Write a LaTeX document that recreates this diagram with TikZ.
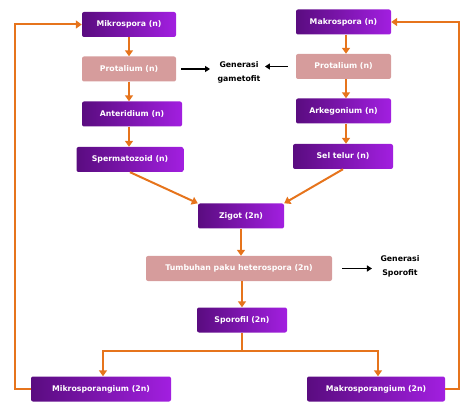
\documentclass[tikz,border=0pt]{standalone}
\usepackage{fontspec}
\setmainfont{DejaVu Sans}
\usetikzlibrary{arrows.meta,positioning}

\definecolor{ungutua}{HTML}{5A0C80}
\definecolor{ungumuda}{HTML}{A21FE0}
\definecolor{merahmuda}{HTML}{D69C9C}
\definecolor{oranye}{HTML}{E6741C}

\tikzset{
  kotak/.style={rectangle, rounded corners=2pt, text=white, inner sep=0pt,
    minimum height=25pt, font=\bfseries\fontsize{7.8}{9}\selectfont},
  fase/.style={kotak, left color=ungutua, right color=ungumuda},
  protal/.style={kotak, fill=merahmuda},
  ket/.style={align=center, font=\bfseries\fontsize{7.8}{14}\selectfont},
  panah/.style={draw=oranye, line width=2pt, -{Triangle[length=6pt,width=8pt]}},
  garis/.style={draw=oranye, line width=2pt},
  hitam/.style={draw=black, line width=1.4pt, -{Triangle[length=5pt,width=6pt]}}
}

\begin{document}
\begin{tikzpicture}[x=1pt,y=1pt]
\useasboundingbox (0,0) rectangle (474,-414);

% jalur kiri
\node [fase, minimum width=94pt] (mikro) at (129,-24.5) {Mikrospora (n)};
\node [protal, minimum width=94pt] (protL) at (129,-69) {Protalium (n)};
\node [fase, minimum width=100pt] (anter) at (132,-114) {Anteridium (n)};
\node [fase, minimum width=107pt] (sperma) at (130,-159.5) {Spermatozoid (n)};

% jalur kanan
\node [fase, minimum width=95pt] (makro) at (343.5,-22) {Makrospora (n)};
\node [protal, minimum width=95pt] (protR) at (343.5,-66.5) {Protalium (n)};
\node [fase, minimum width=95pt] (arke) at (343.5,-111) {Arkegonium (n)};
\node [fase, minimum width=100pt] (sel) at (343,-156.5) {Sel telur (n)};

\node [ket] (gamet) at (239,-72) {Generasi\\gametofit};

% tengah
\node [fase, minimum width=86pt] (zigot) at (241,-216) {Zigot (2n)};
\node [protal, minimum width=186pt] (tumbuhan) at (239,-268.5) {Tumbuhan paku heterospora (2n)};
\node [ket] (sporofit) at (400,-266) {Generasi\\Sporofit};
\node [fase, minimum width=90pt] (sporofil) at (242,-320) {Sporofil (2n)};

\node [fase, minimum width=140pt] (mikrosp) at (101,-389) {Mikrosporangium (2n)};
\node [fase, minimum width=138pt] (makrosp) at (376,-389) {Makrosporangium (2n)};
\coordinate (cabang) at (242,-351);

\draw [panah] (mikro) -- (protL);
\draw [panah] (protL) -- (protL |- anter.north);
\draw [panah] (protL |- anter.south) -- (protL |- sperma.north);
\draw [panah] (makro.south -| 346,0) -- (protR.north -| 346,0);
\draw [panah] (protR.south -| 346,0) -- (arke.north -| 346,0);
\draw [panah] (arke.south -| 346,0) -- (sel.north -| 346,0);

\draw [panah] (sperma.south) -- (zigot.north west);
\draw [panah] (sel.south) -- (zigot.north east);
\draw [panah] (zigot) -- (zigot |- tumbuhan.north);
\draw [panah] (sporofil |- tumbuhan.south) -- (sporofil);

\draw [garis] (sporofil) -- (cabang);
\draw [panah] (cabang) -| ([xshift=2pt]mikrosp.north);
\draw [panah] (cabang) -| ([xshift=2pt]makrosp.north);

\draw [panah] (mikrosp.west) -- ++(-16,0) |- (mikro.west);
\draw [panah] (makrosp.east) -- ++(14,0) |- (makro.east);

\draw [hitam] ([xshift=5pt]protL.east) -- ([xshift=-4pt]protL.east -| gamet.west);
\draw [hitam] ([xshift=-8pt]protR.west) -- ([xshift=1pt]protR.west -| gamet.east);
\draw [hitam] ([xshift=10pt]tumbuhan.east) -- ([xshift=-5pt]tumbuhan.east -| sporofit.west);
\end{tikzpicture}
\end{document}
